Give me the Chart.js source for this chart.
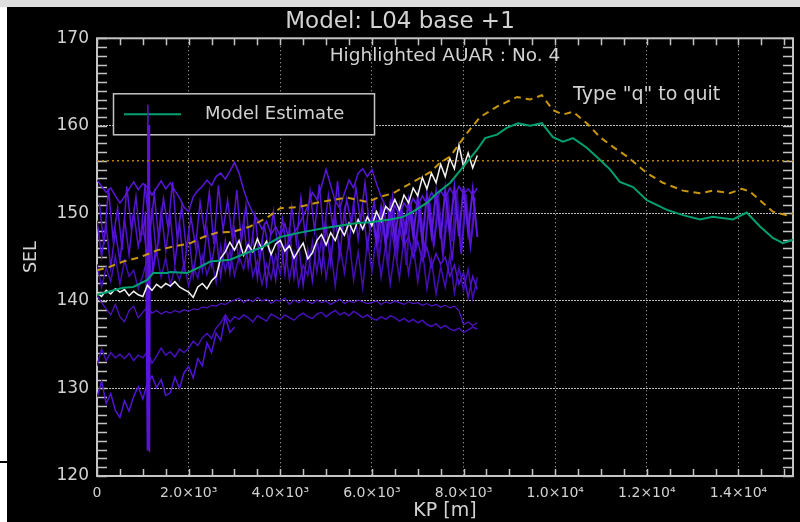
<!DOCTYPE html>
<html>
<head>
<meta charset="utf-8">
<script src="https://cdn.jsdelivr.net/npm/chart.js@4.4.1/dist/chart.umd.min.js"></script>
<style>
  body { margin: 0; background: #ffffff; width: 800px; height: 522px; overflow: hidden; position: relative; }
  #topStrip { position: absolute; left: 0; top: 0; width: 800px; height: 7px; background: #dedede; }
  #leftMark { position: absolute; left: 0; top: 461px; width: 7px; height: 2px; background: #000; }
  #plot { position: absolute; left: 7px; top: 7px; background: #000; }
</style>
</head>
<body>
<div id="topStrip"></div>
<div id="leftMark"></div>
<canvas id="plot" width="793" height="515"></canvas>
<script>
// KP grid of the track records (m)
const kpTrack = [0, 100, 200, 300, 400, 500, 600, 700, 800, 900,
  1000, 1100, 1200, 1300, 1400, 1500, 1600, 1700, 1800, 1900,
  2000, 2100, 2200, 2300, 2400, 2500, 2600, 2700, 2800, 2900,
  3000, 3100, 3200, 3300, 3400, 3500, 3600, 3700, 3800, 3900,
  4000, 4100, 4200, 4300, 4400, 4500, 4600, 4700, 4800, 4900,
  5000, 5100, 5200, 5300, 5400, 5500, 5600, 5700, 5800, 5900,
  6000, 6100, 6200, 6300, 6400, 6500, 6600, 6700, 6800, 6900,
  7000, 7100, 7200, 7300, 7400, 7500, 7600, 7700, 7800, 7900,
  8000, 8100, 8200, 8300];
const kpHalf = [50, 150, 250, 350, 450, 550, 650, 750, 850, 950,
  1050, 1150, 1250, 1350, 1450, 1550, 1650, 1750, 1850, 1950,
  2050, 2150, 2250, 2350, 2450, 2550, 2650, 2750, 2850, 2950,
  3050, 3150, 3250, 3350, 3450, 3550, 3650, 3750, 3850, 3950,
  4050, 4150, 4250, 4350, 4450, 4550, 4650, 4750, 4850, 4950,
  5050, 5150, 5250, 5350, 5450, 5550, 5650, 5750, 5850, 5950,
  6050, 6150, 6250, 6350, 6450, 6550, 6650, 6750, 6850, 6950,
  7050, 7150, 7250, 7350, 7450, 7550, 7650, 7750, 7850, 7950,
  8050, 8150, 8250];

// highlighted AUAR No. 4
const auar4 = [140.9, 140.5, 141.2, 140.8, 141.4, 141.0, 141.3, 140.6, 141.1, 140.7,
  140.5, 141.8, 141.2, 141.9, 141.5, 142.0, 141.7, 142.2, 141.6, 141.3,
  141.0, 140.4, 141.6, 142.0, 141.4, 142.3, 142.8, 144.9, 145.6, 146.7,
  145.8, 146.9, 145.2, 146.4, 145.6, 147.1, 145.9, 146.8, 145.3, 146.5,
  146.9, 145.7, 146.3, 144.9, 145.8, 146.6, 144.8, 145.5, 146.9, 147.6,
  146.4, 147.8, 146.9, 148.4, 147.5, 148.9, 147.8, 149.3, 148.2, 149.6,
  148.6, 150.2, 149.1, 150.8, 150.3, 151.6, 150.4, 152.1, 151.2, 152.9,
  152.0, 154.1, 152.8, 154.6, 153.5, 155.6, 154.2, 156.3, 155.1, 157.8,
  155.3, 156.9, 155.2, 156.6];

// other AUAR records
const auarUpper = [153.8, 153.1, 152.4, 152.9, 152.0, 151.2, 151.9, 152.8, 153.6, 152.7,
  153.4, 153.0, 152.1, 152.9, 153.7, 152.8, 153.5, 152.6, 151.8, 150.7,
  150.2, 151.9, 152.6, 153.1, 153.8, 153.2, 154.2, 154.6, 153.9, 154.8,
  155.8, 154.6, 152.7, 151.2, 150.1, 149.3, 148.2, 149.1, 147.6, 148.5,
  147.4, 148.8, 146.9, 147.8, 148.6, 149.7, 150.8, 152.4, 151.6, 153.1,
  155.0, 153.2, 151.4, 150.6, 152.3, 153.8, 152.9, 154.6, 155.1, 154.2,
  155.0, 153.4, 151.9, 150.8, 149.6, 150.9, 149.8, 151.2, 150.4, 151.7,
  150.8, 152.0, 151.1, 152.4, 151.5, 152.6, 151.7, 152.9, 152.0, 153.1,
  152.2, 152.8, 152.1, 152.9];
const auarMid = [149.2, 145.1, 148.6, 143.8, 147.9, 144.6, 149.4, 145.3, 150.1, 146.2,
  148.8, 144.9, 150.6, 145.2, 150.3, 145.7, 149.6, 144.2, 148.9, 143.6,
  147.8, 142.9, 146.7, 143.5, 148.2, 144.1, 147.5, 142.8, 146.9, 143.2,
  148.1, 144.6, 149.2, 143.9, 147.4, 142.6, 146.8, 141.9, 145.7, 142.4,
  147.2, 143.1, 148.4, 142.7, 146.5, 141.8, 145.9, 142.3, 147.1, 143.4,
  148.6, 144.2, 149.8, 145.1, 150.4, 146.3, 151.2, 147.0, 150.6, 146.1,
  149.7, 147.4, 150.5, 146.6, 149.2, 145.8, 148.3, 146.2, 147.4, 145.0,
  146.8, 144.6, 146.1, 143.9, 145.4, 144.2, 145.0, 142.8, 144.1, 141.9,
  143.2, 140.4, 142.8, 141.3];
const auarMid2 = [144.2, 141.6, 143.8, 142.2, 145.1, 141.9, 144.6, 142.8, 143.5, 141.4,
  142.9, 144.8, 143.1, 145.6, 142.7, 144.9, 141.8, 143.7, 142.4, 144.3,
  141.7, 143.9, 142.6, 145.2, 143.0, 144.7, 142.1, 146.3, 143.4, 145.8,
  142.9, 145.1, 143.6, 146.4, 142.8, 144.6, 141.9, 144.2, 142.5, 145.3,
  143.1, 146.2, 142.4, 145.5, 141.8, 144.1, 142.9, 146.8, 143.3, 147.2,
  142.6, 145.9, 141.7, 146.3, 143.2, 147.1, 142.4, 145.6, 141.5, 146.9,
  143.4, 147.6, 142.7, 146.4, 141.9, 145.8, 142.6, 147.3, 143.1, 146.5,
  142.2, 145.9, 141.4, 144.7, 140.8, 143.9, 141.6, 145.1, 140.9, 143.8,
  141.2, 143.6, 140.3, 142.7];
const auarMid3 = [151.2, 146.4, 152.8, 147.1, 150.6, 145.8, 153.1, 148.2, 151.9, 146.7,
  153.4, 147.6, 152.2, 146.9, 151.7, 148.4, 153.6, 147.2, 150.8, 145.9,
  149.6, 146.2, 151.3, 147.8, 152.4, 146.5, 153.2, 148.1, 151.5, 147.3,
  152.7, 146.8, 150.9, 145.4, 149.8, 144.7, 148.6, 145.9, 150.2, 146.1,
  149.4, 145.2, 150.7, 146.6, 151.8, 147.3, 152.5, 148.0, 153.3, 147.6,
  152.1, 148.4, 153.7, 147.9, 151.6, 148.8, 152.9, 149.2, 153.5, 148.3,
  151.4, 146.9, 150.8, 147.5, 151.9, 146.2, 150.4, 147.8, 151.1, 146.6,
  150.2, 145.7, 151.3, 146.4, 150.6, 145.1, 149.8, 144.6, 150.4, 145.3,
  151.2, 146.1, 150.7];
const auarLine = [140.6, 139.8, 139.1, 138.4, 139.6, 138.2, 137.6, 138.9, 139.4, 138.1,
  138.7, 139.3, 138.6, 138.9, 138.5, 138.8, 138.6, 138.9, 138.7, 139.0,
  138.8, 139.1, 139.0, 139.3, 139.2, 139.5, 139.4, 139.7, 139.6, 139.9,
  140.1, 140.3, 139.8, 140.2, 139.9, 140.4, 140.0, 140.2, 139.7, 140.1,
  140.0, 140.3, 139.6, 140.1, 139.8, 140.2, 139.9, 139.7, 140.1, 139.8,
  140.0, 139.6, 139.9, 140.2, 139.7, 140.0, 139.8, 140.1, 139.9, 139.7,
  139.8, 140.0, 139.6, 139.9, 139.7, 140.0, 139.8, 139.6, 139.9, 139.7,
  139.8, 139.5, 139.7, 139.4, 139.6, 139.3, 139.5, 139.2, 139.4, 138.9,
  137.3, 137.6, 137.2, 137.5];
const auarLow2 = [132.6, 134.5, 133.2, 134.1, 133.5, 133.9, 133.4, 134.0, 133.2, 133.8,
  133.5, 134.2, 132.9, 133.7, 134.6, 133.8, 134.2, 133.6, 134.5, 134.1,
  134.6, 135.4, 134.9, 135.8, 136.3, 135.7, 136.9, 137.5, 138.4, 137.6,
  138.2, 137.9, 138.4, 138.1, 137.6, 138.3, 138.0, 137.7, 138.5, 138.2,
  137.9, 138.4, 138.1, 137.8, 138.3, 138.6, 138.2, 138.0, 138.5, 138.7,
  138.2, 138.6, 138.9, 138.4, 138.7, 138.3, 138.8, 138.5, 138.1, 138.4,
  138.0, 137.8, 138.2, 137.9, 138.3, 138.1, 137.7, 138.0, 137.6, 137.9,
  137.5, 137.8, 137.3, 137.1, 137.4, 136.9, 137.2, 136.8, 136.6, 136.9,
  136.4, 136.7, 137.0, 136.8];
const auarLow1 = [129.0, 130.8, 128.3, 129.4, 127.5, 126.7, 128.6, 127.4, 129.1, 130.2,
  128.8, 130.6, 131.4, 130.1, 131.0, 129.2, 129.5, 131.3, 130.0, 131.8,
  132.5, 131.2, 133.4, 132.6, 135.2, 134.1, 136.3, 135.5, 138.2, 136.4,
  137.0];
const auarBand1 = [150.1, 146.8, 150.6, 146.5, 151.0, 147.2, 150.8, 146.9, 151.4, 147.5,
  151.8, 146.8, 152.1, 147.6, 152.4, 147.1, 152.6, 148.0, 152.9, 147.4,
  153.0, 147.8, 152.7, 147.3];
const auarBand2 = [148.2, 144.6, 149.1, 143.8, 149.6, 145.2, 150.3, 144.1, 150.8, 145.6,
  151.2, 144.9, 151.5, 146.2, 151.9, 145.4, 152.3, 146.8, 152.6, 145.9,
  152.2, 146.5, 151.8];
const spikeKp = [1000, 1060, 1100, 1110, 1120, 1135, 1145, 1160, 1220, 1280];
const spikeSel = [147.5, 150.2, 123.0, 162.4, 131.5, 160.1, 122.7, 148.6, 143.2, 146.0];

// model estimate and upper curve
const modelKp = [0, 570, 790, 1100, 1230, 1530, 1600, 1970, 2250, 2470,
  2900, 3280, 3630, 4000, 4430, 4940, 5680, 5960, 6400, 6680,
  6900, 7200, 7420, 7710, 7990, 8300, 8470, 8730, 8950, 9190,
  9450, 9710, 9950, 10170, 10390, 10690, 10980, 11200, 11410, 11700,
  12000, 12440, 12790, 13160, 13440, 13880, 14180, 14470, 14750, 14970, 15190];
const modelSel = [140.7, 141.5, 141.6, 142.4, 143.2, 143.2, 143.3, 143.2, 143.9, 144.5,
  144.7, 145.5, 146.2, 147.3, 147.8, 148.3, 148.9, 149.0, 149.3, 149.6,
  150.2, 151.2, 152.3, 153.5, 155.3, 157.3, 158.6, 159.0, 159.8, 160.3,
  160.0, 160.3, 158.7, 158.2, 158.6, 157.5, 156.1, 155.0, 153.6, 153.0,
  151.5, 150.4, 149.8, 149.3, 149.6, 149.3, 150.1, 148.5, 147.2, 146.6, 147.0];
const upperKp = [0, 280, 570, 940, 1320, 1660, 2040, 2320, 2620, 2970,
  3340, 3710, 4000, 4370, 4870, 5460, 5900, 6180, 6460, 6900,
  7270, 7490, 7710, 7860, 8080, 8360, 8730, 9170, 9450, 9710,
  9950, 10170, 10390, 10690, 10980, 11260, 11570, 12000, 12350, 12790,
  13160, 13440, 13810, 14070, 14250, 14510, 14750, 15050, 15190];
const upperSel = [143.5, 143.9, 144.5, 145.0, 145.8, 146.2, 146.6, 147.3, 147.8, 147.9,
  148.5, 149.5, 150.6, 150.7, 151.3, 151.8, 151.3, 151.9, 152.3, 153.6,
  154.7, 155.8, 156.5, 157.6, 159.2, 161.0, 162.2, 163.3, 163.0, 163.5,
  161.8, 161.3, 161.6, 160.3, 158.7, 157.6, 156.5, 154.6, 153.5, 152.6,
  152.3, 152.6, 152.3, 152.8, 152.5, 151.3, 150.2, 149.8, 150.0];
const limitKp = [0, 15190];
const limitSel = [156, 156];

const xTicks = [0, 2000, 4000, 6000, 8000, 10000, 12000, 14000];
const yTicks = [120, 130, 140, 150, 160, 170];

const textColor = '#d2d2d2';
const frameColor = '#c4c4c4';
const font = "'DejaVu Sans'";

function pts(kp, sel) {
  return sel.map((v, i) => ({x: kp[i], y: v}));
}

function purple(label, kp, sel, color, width, order) {
  return {label: label, data: pts(kp, sel), borderColor: color, borderWidth: width,
    pointRadius: 0, order: order};
}

const sup = {3: '³', 4: '⁴'};
function sciLabel(v) {
  if (v === 0) return '0';
  let e = Math.floor(Math.log10(v));
  let m = v / Math.pow(10, e);
  return m.toFixed(1) + '×10' + sup[e];
}

// IDL style frame, inward ticks, legend box and notes
const idlFrame = {
  id: 'idlFrame',
  beforeDatasetsDraw(chart) {
    const ctx = chart.ctx, a = chart.chartArea, x = chart.scales.x, y = chart.scales.y;
    ctx.save();
    ctx.strokeStyle = frameColor;
    ctx.lineWidth = 1.5;
    ctx.beginPath();
    for (let v = 0; v <= x.max; v += 500) {
      let px = Math.round(x.getPixelForValue(v)) + 0.5;
      ctx.moveTo(px, a.bottom); ctx.lineTo(px, a.bottom - 7);
      ctx.moveTo(px, a.top); ctx.lineTo(px, a.top + 7);
    }
    for (let v = y.min; v <= y.max; v += 1) {
      let py = Math.round(y.getPixelForValue(v)) + 0.5;
      ctx.moveTo(a.left, py); ctx.lineTo(a.left + 10, py);
      ctx.moveTo(a.right, py); ctx.lineTo(a.right - 10, py);
    }
    ctx.stroke();
    ctx.lineWidth = 2;
    ctx.strokeRect(a.left, a.top, a.right - a.left, a.bottom - a.top);

    // legend
    let bx = a.left + 16, by = a.top + 55;
    ctx.fillStyle = '#000';
    ctx.fillRect(bx, by, 261, 41);
    ctx.lineWidth = 1.5;
    ctx.strokeRect(bx + 0.5, by + 0.5, 261, 41);
    ctx.strokeStyle = '#00a070';
    ctx.lineWidth = 2;
    ctx.beginPath();
    ctx.moveTo(bx + 11, by + 21); ctx.lineTo(bx + 68, by + 21);
    ctx.stroke();
    ctx.fillStyle = textColor;
    ctx.font = '18px ' + font;
    ctx.textBaseline = 'middle';
    ctx.fillText('Model Estimate', bx + 92, by + 21);
    ctx.restore();
  },
  afterDatasetsDraw(chart) {
    const ctx = chart.ctx, a = chart.chartArea;
    ctx.save();
    ctx.fillStyle = textColor;
    ctx.textBaseline = 'middle';
    ctx.font = '18.5px ' + font;
    ctx.textAlign = 'center';
    ctx.fillText('Highlighted AUAR : No. 4', (a.left + a.right) / 2, a.top + 18);
    ctx.font = '19px ' + font;
    ctx.textAlign = 'left';
    ctx.fillText('Type "q" to quit', a.left + 476, a.top + 57);
    ctx.restore();
  }
};

let chart = new Chart(document.getElementById('plot'), {
  type: 'line',
  data: {
    datasets: [
      {label: 'Model Estimate', data: pts(modelKp, modelSel), borderColor: '#00a070',
        borderWidth: 2, pointRadius: 0, order: 1},
      {label: 'Upper', data: pts(upperKp, upperSel), borderColor: '#c8960c',
        borderWidth: 2, borderDash: [7, 5], pointRadius: 0, order: 2},
      {label: 'AUAR 4', data: pts(kpTrack, auar4), borderColor: '#f2f2f2',
        borderWidth: 1.5, pointRadius: 0, order: 3},
      {label: 'Limit', data: pts(limitKp, limitSel), borderColor: '#b57f00',
        borderWidth: 1.5, borderDash: [2, 3], pointRadius: 0, order: 4},
      purple('spike', spikeKp, spikeSel, '#5a14e0', 1.5, 5),
      purple('upper', kpTrack, auarUpper, '#5a16dc', 1.5, 6),
      purple('band1', kpTrack.slice(60), auarBand1, '#5e1ae0', 2, 7),
      purple('mid', kpTrack, auarMid, '#5212d0', 1.5, 8),
      purple('mid3', kpHalf, auarMid3, '#5614d6', 1.5, 9),
      purple('band2', kpHalf.slice(60), auarBand2, '#3e0ca4', 2, 10),
      purple('mid2', kpTrack, auarMid2, '#440eb4', 1.5, 11),
      purple('line', kpTrack, auarLine, '#5414cc', 1.2, 12),
      purple('low2', kpTrack, auarLow2, '#4810bc', 1.5, 13),
      purple('low1', kpTrack, auarLow1, '#5214d8', 1.5, 14)
    ]
  },
  options: {
    responsive: false,
    animation: false,
    devicePixelRatio: 1,
    layout: {padding: {left: 0, right: 7, top: 0, bottom: 0}},
    plugins: {
      legend: {display: false},
      tooltip: {enabled: false},
      title: {
        display: true,
        text: 'Model: L04 base +1',
        color: textColor,
        font: {family: font, size: 23, weight: 'normal'},
        padding: {top: 1, bottom: 2.7}
      }
    },
    scales: {
      x: {
        type: 'linear',
        min: 0,
        max: 15190,
        afterBuildTicks: s => { s.ticks = xTicks.map(v => ({value: v})); },
        afterFit: s => { s.height = 46; },
        ticks: {
          color: textColor,
          font: {family: font, size: 14},
          padding: 9,
          maxRotation: 0,
          autoSkip: false,
          callback: v => sciLabel(v)
        },
        grid: {
          drawTicks: false,
          color: c => (c.tick && c.tick.value > 0) ? '#bcbcbc' : 'transparent',
          lineWidth: 1
        },
        border: {display: false, dash: [1, 3]},
        title: {display: true, text: 'KP [m]', color: textColor,
          font: {family: font, size: 19}, padding: {top: 0, bottom: 0}}
      },
      y: {
        min: 120,
        max: 170,
        afterBuildTicks: s => { s.ticks = yTicks.map(v => ({value: v})); },
        afterFit: s => { s.width = 90; },
        ticks: {
          color: textColor,
          font: {family: font, size: 17},
          padding: 8
        },
        grid: {
          drawTicks: false,
          color: c => (c.tick && c.tick.value > 120 && c.tick.value < 170) ? '#bcbcbc' : 'transparent',
          lineWidth: 1
        },
        border: {display: false, dash: [2, 1]},
        title: {display: true, text: 'SEL', color: textColor,
          font: {family: font, size: 17.5}, padding: {top: 13.5, bottom: 0}}
      }
    }
  },
  plugins: [idlFrame]
});
</script>
</body>
</html>
